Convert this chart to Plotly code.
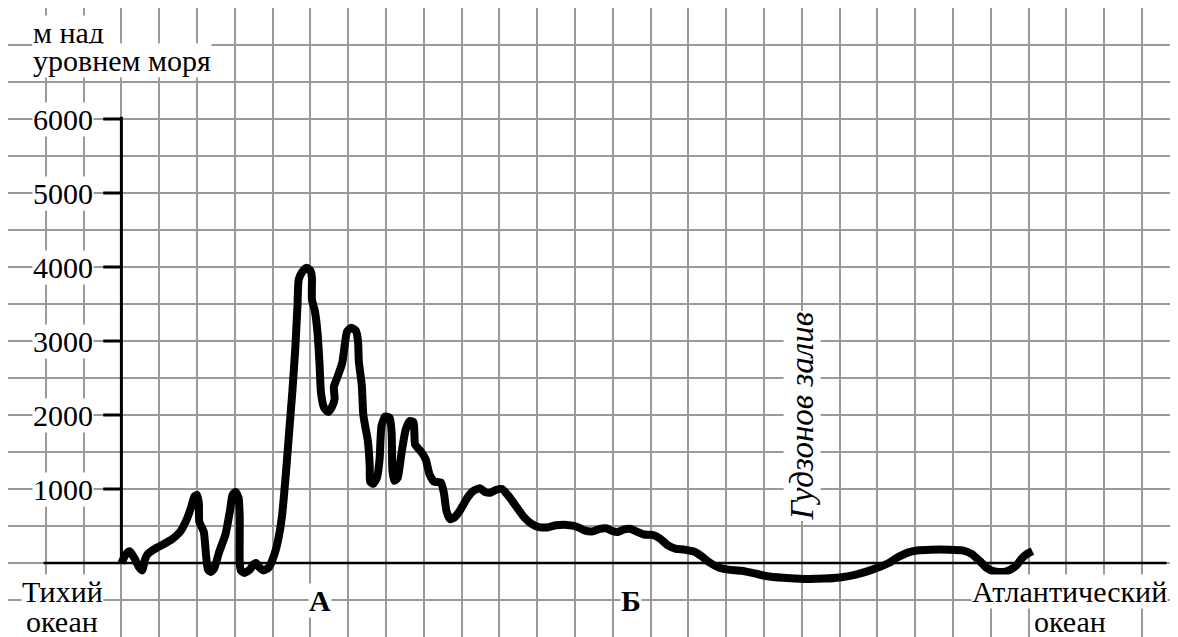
import plotly.graph_objects as go

# profile: distance in grid cells from the vertical axis, elevation in metres
dist = [0.00, 0.12, 0.22, 0.35, 0.47, 0.55, 0.62, 0.68, 0.85, 1.10, 1.34, 1.55, 1.72, 1.85, 1.93, 2.00,
        2.05, 2.06, 2.18, 2.24, 2.29, 2.36, 2.45, 2.58, 2.75, 2.87, 2.94, 3.02, 3.10, 3.13, 3.13, 3.16,
        3.25, 3.40, 3.48, 3.56, 3.65, 3.76, 3.90, 4.05, 4.15, 4.25, 4.35, 4.45, 4.52, 4.60, 4.66, 4.69,
        4.78, 4.90, 5.00, 5.04, 5.04, 5.12, 5.19, 5.24, 5.28, 5.36, 5.47, 5.57, 5.64, 5.62, 5.72, 5.84,
        5.91, 5.97, 6.08, 6.20, 6.26, 6.28, 6.36, 6.40, 6.52, 6.57, 6.58, 6.66, 6.76, 6.83, 6.88, 6.98,
        7.10, 7.15, 7.17, 7.22, 7.31, 7.40, 7.52, 7.63, 7.73, 7.77, 7.92, 8.05, 8.15, 8.27, 8.45, 8.53,
        8.60, 8.70, 8.82, 8.97, 9.15, 9.30, 9.48, 9.62, 9.76, 9.92, 10.07, 10.25, 10.45, 10.65, 10.85,
        11.05, 11.25, 11.50, 11.79, 12.05, 12.25, 12.45, 12.65, 12.82, 13.00, 13.13, 13.30, 13.48, 13.65,
        13.82, 14.05, 14.25, 14.45, 14.65, 14.90, 15.15, 15.35, 15.55, 15.80, 16.05, 16.40, 16.75, 17.05,
        17.50, 18.10, 18.60, 19.00, 19.40, 19.75, 20.05, 20.30, 20.55, 20.80, 21.05, 21.40, 21.90, 22.25,
        22.50, 22.70, 22.90, 23.10, 23.35, 23.55, 23.70, 23.82, 23.95, 24.10]
height = [0, 120, 160, 60, -60, -100, 40, 110, 180, 250, 320, 420, 580, 760, 900, 920,
          800, 560, 420, 100, -90, -120, -80, 140, 380, 700, 920, 960, 880, 620, 0, -100,
          -135, -90, -25, 0, -60, -100, -60, 120, 320, 640, 1200, 1850, 2300, 2900, 3500, 3830,
          3930, 3990, 3950, 3860, 3560, 3400, 3100, 2700, 2300, 2100, 2040, 2110, 2220, 2380, 2520, 2700,
          2950, 3130, 3180, 3140, 3000, 2730, 2400, 2000, 1650, 1300, 1100, 1070, 1150, 1400, 1850, 1980,
          1960, 1750, 1250, 1110, 1150, 1450, 1800, 1920, 1900, 1600, 1510, 1400, 1200, 1100, 1090, 950,
          700, 590, 620, 720, 880, 970, 1010, 960, 950, 990, 1000, 900, 760, 620, 530,
          485, 480, 510, 515, 490, 440, 425, 460, 470, 430, 420, 455, 460, 420,
          385, 380, 330, 240, 195, 180, 155, 90, 10, -60, -90, -105, -140, -175,
          -200, -215, -210, -195, -160, -110, -55, 0, 80, 140, 170, 180, 180, 170,
          120, 30, -70, -115, -120, -80, -20, 60, 120, 160]

tick_values = [1000, 2000, 3000, 4000, 5000, 6000]
tick_labels = ["1000", "2000", "3000", "4000", "5000", "6000"]

FONT = "'Liberation Serif', 'Times New Roman', 'DejaVu Serif', serif"
FS = 30

fig = go.Figure()

# horizontal (sea level) axis
fig.add_trace(go.Scatter(x=[-2.06, 27.65], y=[0, 0], mode="lines",
                         line=dict(color="black", width=2.5), hoverinfo="skip"))
# vertical axis
fig.add_trace(go.Scatter(x=[0, 0], y=[0, 6030], mode="lines",
                         line=dict(color="black", width=3), hoverinfo="skip"))
# tick marks
for v in tick_values:
    fig.add_trace(go.Scatter(x=[-0.48, 0], y=[v, v], mode="lines",
                             line=dict(color="black", width=3), hoverinfo="skip"))

# profile
fig.add_trace(go.Scatter(x=dist, y=height, mode="lines",
                         line=dict(color="black", width=8, shape="spline", smoothing=0.5),
                         hoverinfo="skip"))

ann = []
for v, t in zip(tick_values, tick_labels):
    ann.append(dict(x=-0.72, y=v, text=t, xanchor="right", yanchor="middle"))

ann += [
    dict(x=-2.36, y=7166, text="м над", xanchor="left", yanchor="middle"),
    dict(x=-2.36, y=6784, text="уровнем моря", xanchor="left", yanchor="middle"),
    dict(x=-1.55, y=-390, text="Тихий", xanchor="center", yanchor="middle"),
    dict(x=-1.56, y=-790, text="океан", xanchor="center", yanchor="middle"),
    dict(x=5.25, y=-510, text="<b>А</b>", xanchor="center", yanchor="middle"),
    dict(x=13.48, y=-503, text="<b>Б</b>", xanchor="center", yanchor="middle"),
    dict(x=25.07, y=-390, text="Атлантический", xanchor="center", yanchor="middle"),
    dict(x=25.10, y=-790, text="океан", xanchor="center", yanchor="middle"),
]
for a in ann:
    a.update(font=dict(family=FONT, size=FS, color="black"))

ann.append(dict(x=18.0, y=1990, text="<i>Гудзонов залив</i>", textangle=-90,
                xanchor="center", yanchor="middle",
                font=dict(family=FONT, size=33, color="black")))

for a in ann:
    a.update(xref="x", yref="y", showarrow=False, bgcolor="white", borderpad=0)

fig.update_layout(
    width=1170, height=629,
    margin=dict(l=0, r=0, t=0, b=0),
    paper_bgcolor="white", plot_bgcolor="white",
    showlegend=False,
    annotations=ann,
    font=dict(family=FONT),
    xaxis=dict(range=[-3.0, 27.952], tick0=0, dtick=1, showgrid=True,
               gridcolor="#9a9a9a", gridwidth=1.5, zeroline=False,
               showticklabels=False, ticks="", showline=False, fixedrange=True),
    yaxis=dict(range=[-1000, 7500], tick0=0, dtick=500, showgrid=True,
               gridcolor="#9a9a9a", gridwidth=1.5, zeroline=False,
               showticklabels=False, ticks="", showline=False, fixedrange=True),
)

fig.write_html("out.html", config={"displayModeBar": False})
